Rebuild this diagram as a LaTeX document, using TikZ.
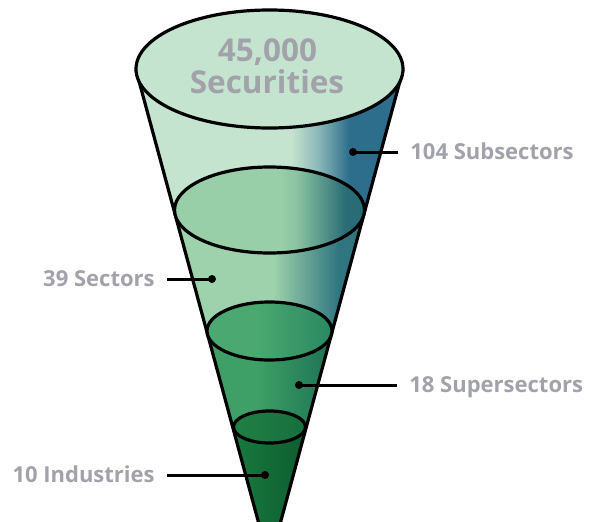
\documentclass[tikz,border=0pt]{standalone}
\usepackage{fontspec}
\setmainfont{Open Sans}
\usepackage{tikz}
\usetikzlibrary{positioning,calc}

\definecolor{mint}{RGB}{197,228,207}
\definecolor{mintfade}{RGB}{140,185,185}
\definecolor{steel}{RGB}{44,110,140}
\definecolor{sageL}{RGB}{152,206,168}
\definecolor{sageM}{RGB}{140,196,162}
\definecolor{tealR}{RGB}{42,108,118}
\definecolor{bandtwoL}{RGB}{158,210,172}
\definecolor{bandtwoR}{RGB}{48,118,128}
\definecolor{leafL}{RGB}{74,168,112}
\definecolor{leafR}{RGB}{42,136,98}
\definecolor{bandthreeL}{RGB}{62,160,102}
\definecolor{bandthreeR}{RGB}{28,114,84}
\definecolor{pineL}{RGB}{32,128,68}
\definecolor{pineR}{RGB}{24,110,62}
\definecolor{bandfourL}{RGB}{24,122,62}
\definecolor{bandfourR}{RGB}{14,92,48}
\definecolor{tagGray}{RGB}{162,163,170}

% left-to-right shadings, the 25bp..75bp part lands on the path
\pgfdeclarehorizontalshading{bandone}{100bp}{color(0bp)=(mint); color(54bp)=(mint); color(59bp)=(mintfade); color(65bp)=(steel); color(100bp)=(steel)}
\pgfdeclarehorizontalshading{ringtwo}{100bp}{color(0bp)=(sageL); color(53bp)=(sageL); color(57bp)=(sageM); color(70bp)=(tealR); color(100bp)=(tealR)}
\pgfdeclarehorizontalshading{bandtwo}{100bp}{color(0bp)=(bandtwoL); color(51bp)=(bandtwoL); color(68bp)=(bandtwoR); color(100bp)=(bandtwoR)}
\pgfdeclarehorizontalshading{ringthree}{100bp}{color(0bp)=(leafL); color(45bp)=(leafL); color(75bp)=(leafR); color(100bp)=(leafR)}
\pgfdeclarehorizontalshading{bandthree}{100bp}{color(0bp)=(bandthreeL); color(45bp)=(bandthreeL); color(75bp)=(bandthreeR); color(100bp)=(bandthreeR)}

\tikzstyle{dot node} = [circle,fill=black,inner sep=0pt,minimum size=8pt]
\tikzstyle{tag node} = [text=tagGray,font=\bfseries\fontsize{22}{22}\selectfont,text height=15.7pt,text depth=0pt,inner xsep=12pt,inner ysep=0pt]
\tikzstyle{head node} = [text=tagGray,font=\bfseries\fontsize{31.5}{31.5}\selectfont,text height=22.5pt,text depth=0pt,inner sep=0pt]
\tikzstyle{rim} = [draw=black,line width=3.2pt]
\tikzstyle{leader} = [draw=black,line width=3pt]

\begin{document}
\begin{tikzpicture}[x=1pt,y=-1pt]
\useasboundingbox (0,0) rectangle (589,522);
\clip (0,0) rectangle (589,522);

    \coordinate (apex) at (269.5,563);
    \coordinate (tl) at (136,70);
    \coordinate (tr) at (403,70);

    % Body of the cone, one band per level
    \fill[shading=bandone] (tl) -- (tr) -- ($(tr)!0.284!(apex)$) -- ($(tl)!0.284!(apex)$) -- cycle;
    \fill[shading=bandtwo] ($(tl)!0.284!(apex)$) -- ($(tr)!0.284!(apex)$) -- ($(tr)!0.529!(apex)$) -- ($(tl)!0.529!(apex)$) -- cycle;
    \fill[shading=bandthree] ($(tl)!0.529!(apex)$) -- ($(tr)!0.529!(apex)$) -- ($(tr)!0.724!(apex)$) -- ($(tl)!0.724!(apex)$) -- cycle;
    \fill[left color=bandfourL, right color=bandfourR] ($(tl)!0.724!(apex)$) -- ($(tr)!0.724!(apex)$) -- (apex) -- cycle;
    \draw[rim, line join=round] (tl) -- (apex) -- (tr);

    % Cross sections
    \draw[rim, shading=ringtwo] (269.5,210) ellipse [x radius=95pt, y radius=43pt];
    \draw[rim, shading=ringthree] (269.5,331) ellipse [x radius=62.5pt, y radius=29pt];
    \draw[rim, left color=pineL, right color=pineR] (269.5,427) ellipse [x radius=36pt, y radius=16pt];

    % Mouth
    \draw[rim, fill=mint] (269.5,69) ellipse [x radius=133.5pt, y radius=59pt];
    \node(count)[head node] at (267.5,50.5) {45,000};
    \node(secur)[head node] at (267,82.5) {Securities};

    % Leaders
    \node(subdot)[dot node] at (353,152) {};
    \node(subs)[tag node, right=41pt of subdot] {104 Subsectors};
    \draw[leader] (subdot.center) -- (subs);

    \node(secdot)[dot node] at (212,279) {};
    \node(secs)[tag node, left=41pt of secdot] {39 Sectors};
    \draw[leader] (secdot.center) -- (secs);

    \node(supdot)[dot node] at (299,385) {};
    \node(sups)[tag node, right=94pt of supdot] {18 Supersectors};
    \draw[leader] (supdot.center) -- (sups);

    \node(inddot)[dot node] at (265,475) {};
    \node(inds)[tag node, left=94pt of inddot] {10 Industries};
    \draw[leader] (inddot.center) -- (inds);

\end{tikzpicture}
\end{document}
